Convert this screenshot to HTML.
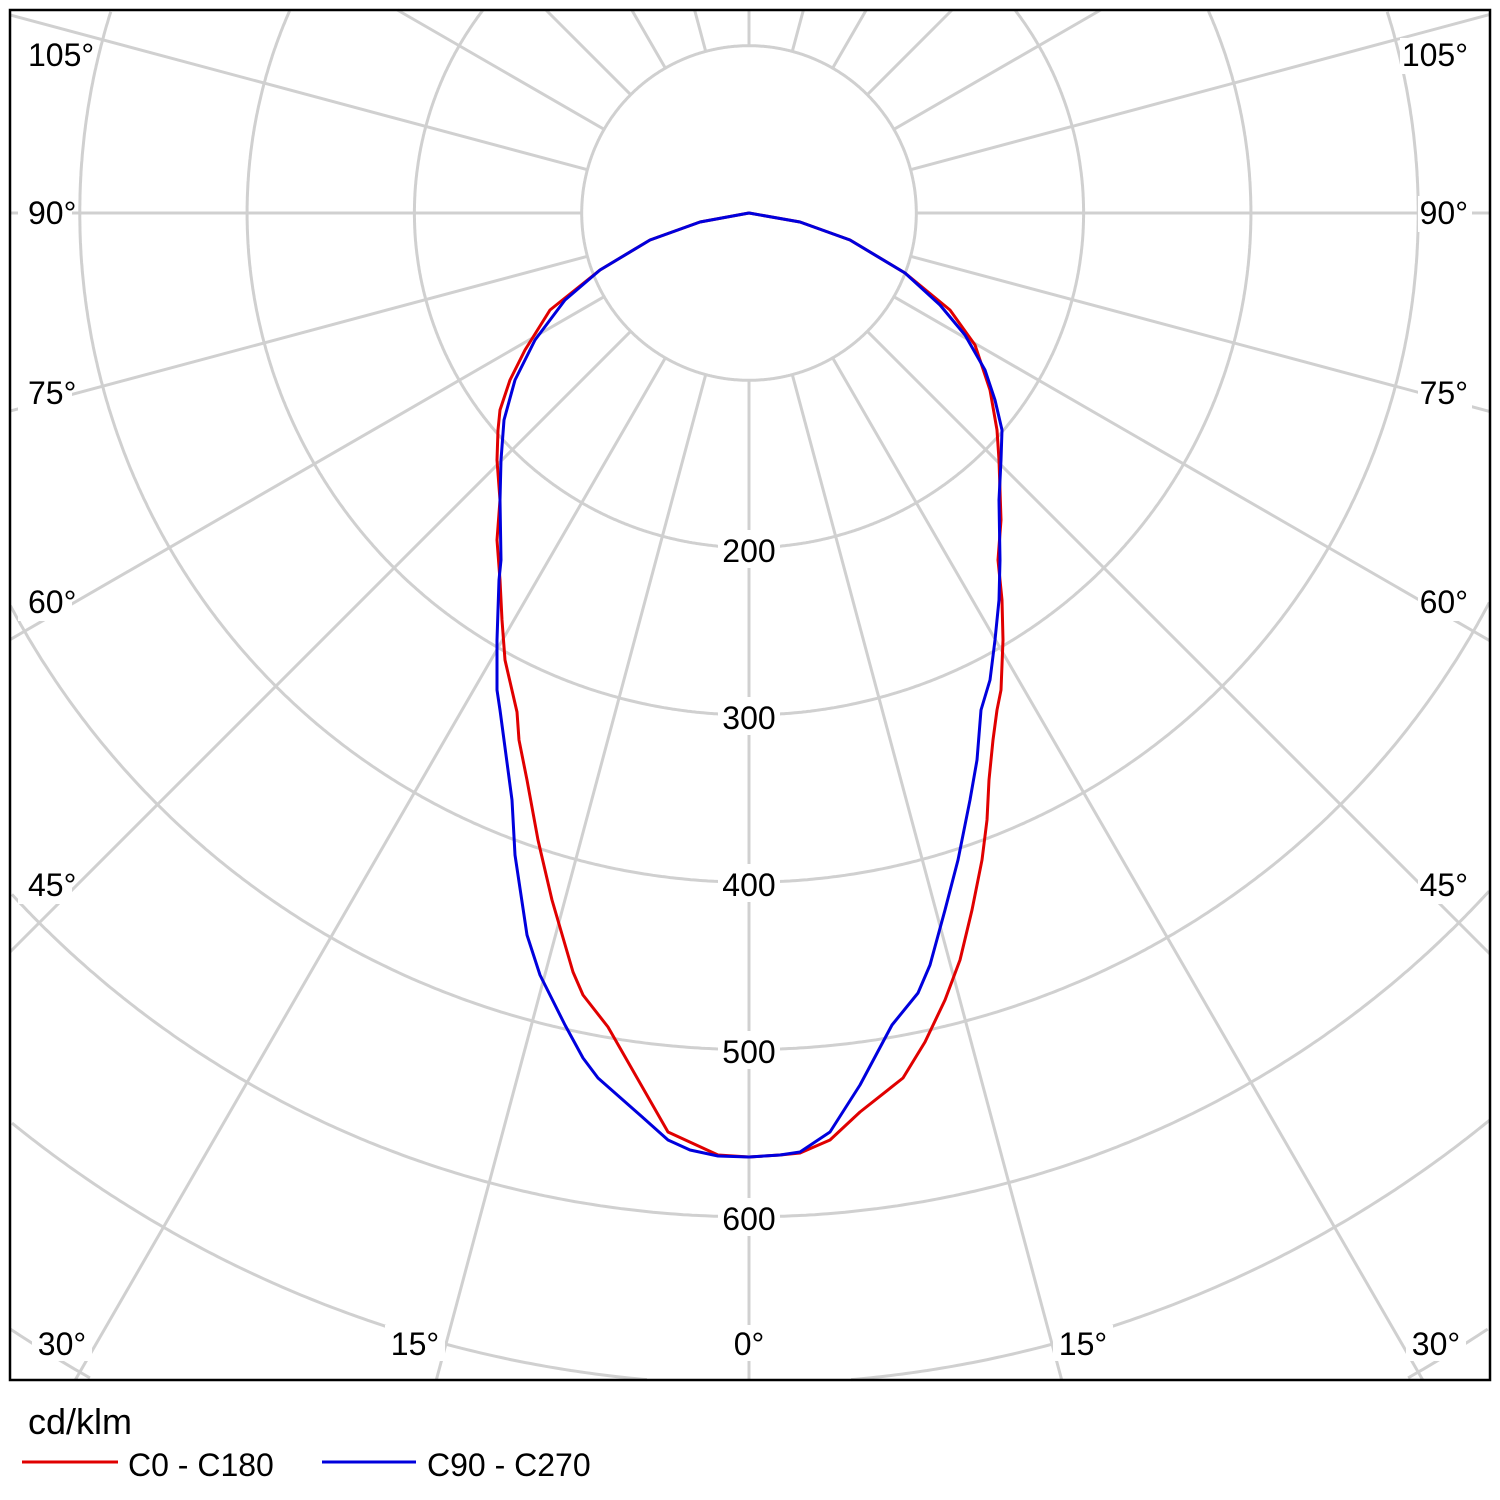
<!DOCTYPE html>
<html><head><meta charset="utf-8"><style>
html,body{margin:0;padding:0;background:#fff;overflow:hidden;width:1500px;height:1500px;}
svg{display:block;font-family:"Liberation Sans","DejaVu Sans",sans-serif;overflow:hidden;}
</style></head><body>
<svg id="s" width="1500" height="1500" viewBox="0 0 1500 1500" xmlns="http://www.w3.org/2000/svg">
<rect width="1500" height="1500" fill="#fff"/>
<g id="grid" stroke="#d0d0d0" stroke-width="3" fill="none"></g>
<g id="labels" font-size="32" fill="#000"></g>
<g fill="none" stroke-width="3" stroke-linejoin="round">
<polyline id="red" stroke="#e00000" points="749,1157 718,1155 668,1132 608,1027 583,995 573,972 552,900 538,840 527,780 519,740 517,712 505,660 502,620 500,580 497,540 500,500 497,460 498,430 500,410 510,380 525,350 550,310 600,270 650,240 700,222 749,213 800,222 850,240 905,273 950,310 975,345 990,390 997,430 999,460 1001,520 998,560 1002,600 1003,640 1001,690 997,710 993,740 989,780 987,820 982,860 972,910 960,960 945,1000 925,1042 903,1078 860,1112 830,1140 800,1153 780,1155 749,1157"/>
<polyline id="blue" stroke="#0000dd" points="749,1157 718,1156 690,1150 668,1140 640,1115 598,1078 583,1058 565,1025 540,975 527,935 515,855 512,800 504,740 500,710 497,690 497,640 499,580 501,560 500,500 501,460 504,420 515,380 535,340 565,300 600,270 650,240 700,222 749,213 800,222 850,240 905,273 940,305 965,335 985,370 995,400 1002,430 1001,460 999,500 1000,560 999,600 995,640 990,680 981,710 977,760 970,800 958,860 945,910 930,965 918,993 892,1025 860,1085 830,1132 800,1152 780,1155 749,1157"/>
</g>
<rect x="10" y="10" width="1480" height="1370" fill="none" stroke="#000" stroke-width="2.5"/>
<text x="28" y="1434" font-size="36">cd/klm</text>
<line x1="22" y1="1462" x2="118" y2="1462" stroke="#e00000" stroke-width="3"/>
<text x="128" y="1476" font-size="32">C0 - C180</text>
<line x1="322" y1="1462" x2="416" y2="1462" stroke="#0000dd" stroke-width="3"/>
<text x="427" y="1476" font-size="32">C90 - C270</text>
</svg>
<script>
var NS="http://www.w3.org/2000/svg",cx=749,cy=213,k=1.673;
var X0=10,X1=1490,Y0=10,Y1=1380;
var g=document.getElementById('grid'),L=document.getElementById('labels');
function el(p,t,a){var e=document.createElementNS(NS,t);for(var n in a)e.setAttribute(n,a[n]);p.appendChild(e);return e;}
function inside(x,y){return x>=X0&&x<=X1&&y>=Y0&&y<=Y1;}
for(var r=100;r<=1000;r+=100){var R=r*k,d='',pen=false;
for(var t=0;t<=1440;t++){var a=t*0.25*Math.PI/180,x=cx+R*Math.sin(a),y=cy+R*Math.cos(a);
if(inside(x,y)){d+=(pen?'L':'M')+x.toFixed(1)+','+y.toFixed(1);pen=true;}else pen=false;}
if(d)el(g,'path',{d:d});}
for(var i=0;i<24;i++){var a=i*15*Math.PI/180,s=Math.sin(a),c=Math.cos(a);
var tm=1e9;
if(s>1e-9)tm=Math.min(tm,(X1-cx)/s);if(s<-1e-9)tm=Math.min(tm,(X0-cx)/s);
if(c>1e-9)tm=Math.min(tm,(Y1-cy)/c);if(c<-1e-9)tm=Math.min(tm,(Y0-cy)/c);
el(g,'line',{x1:cx+s*100*k,y1:cy+c*100*k,x2:cx+s*tm,y2:cy+c*tm});}
[[200,550],[300,717],[400,884],[500,1051],[600,1218]].forEach(function(v){
el(L,'rect',{x:cx-31,y:v[1]-20,width:62,height:38,fill:'#fff'});
var t=el(L,'text',{x:cx,y:v[1]+12,'text-anchor':'middle'});t.textContent=v[0];});
var ang=[['105°',66],['90°',224],['75°',404],['60°',613],['45°',896]];
ang.forEach(function(v){
el(L,'rect',{x:18,y:v[1]-28,width:v[0].length*18,height:36,fill:'#fff'});
var t=el(L,'text',{x:28,y:v[1]});t.textContent=v[0];
el(L,'rect',{x:1472-v[0].length*18,y:v[1]-28,width:v[0].length*18,height:36,fill:'#fff'});
t=el(L,'text',{x:1468,y:v[1],'text-anchor':'end'});t.textContent=v[0];});
[['30°',62],['15°',415],['0°',749],['15°',1083],['30°',1436]].forEach(function(v){
el(L,'rect',{x:v[1]-v[0].length*10,y:1325,width:v[0].length*20,height:36,fill:'#fff'});
var t=el(L,'text',{x:v[1],y:1355,'text-anchor':'middle'});t.textContent=v[0];});
</script>
</body></html>
